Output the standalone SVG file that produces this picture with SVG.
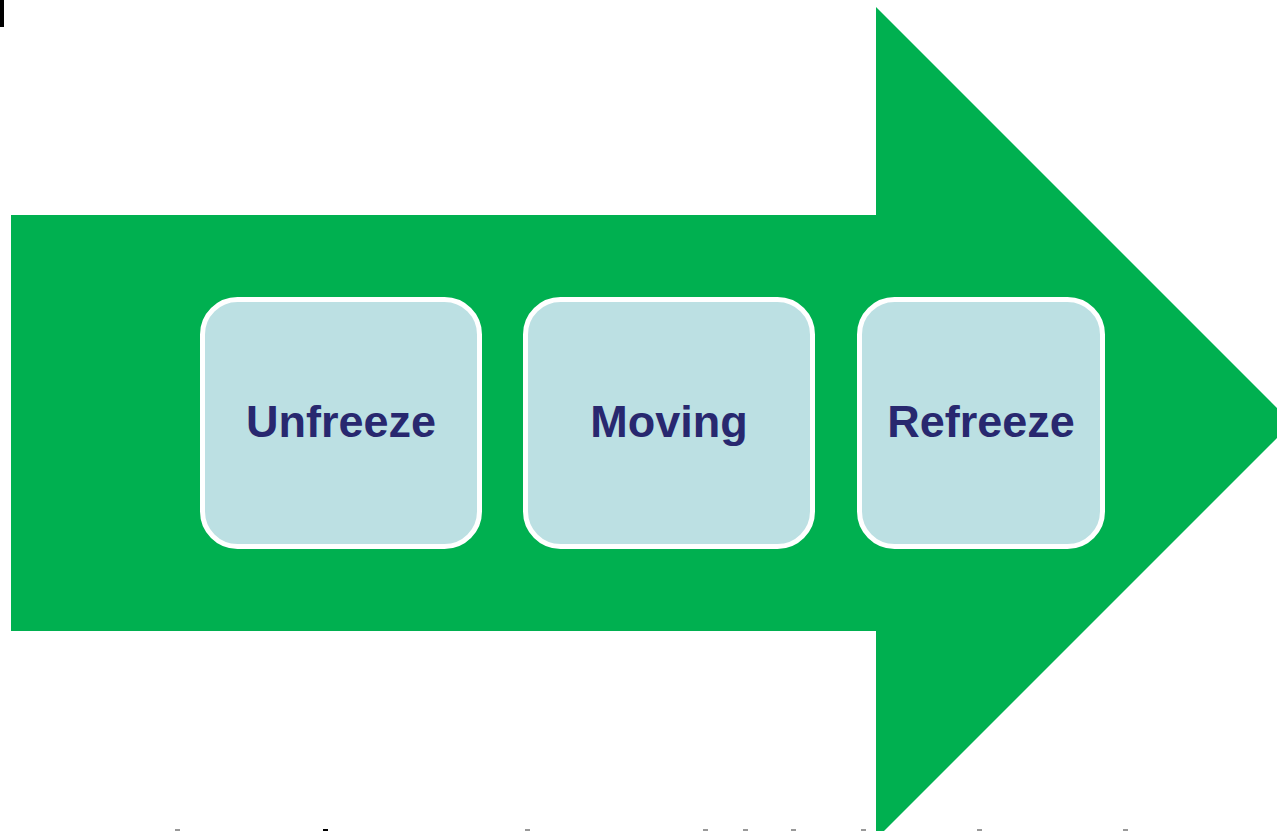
<svg xmlns="http://www.w3.org/2000/svg" width="1277" height="831" viewBox="0 0 1277 831">
  <style>
    .stage rect { fill: #bce0e3; stroke: #ffffff; stroke-width: 5; }
    .stage text { font-family: "Liberation Sans", Arial, sans-serif; font-weight: bold; font-size: 45px; fill: #28286f; text-anchor: middle; }
    .tick { fill: #999999; }
  </style>
  <rect width="1277" height="831" fill="#ffffff"/>
  <rect x="0" y="0" width="4" height="27" fill="#000000"/>

  <!-- process arrow -->
  <g id="process-arrow">
    <polygon points="11,215 876,215 876,7 1292,423 876,839 876,631 11,631" fill="#00b050"/>
  </g>

  <g id="unfreeze" class="stage">
    <rect x="202.5" y="299.5" width="277" height="247" rx="35" ry="35"/>
    <text x="341" y="437">Unfreeze</text>
  </g>
  <g id="moving" class="stage">
    <rect x="525.5" y="299.5" width="287" height="247" rx="35" ry="35"/>
    <text x="669" y="437">Moving</text>
  </g>
  <g id="refreeze" class="stage">
    <rect x="859.5" y="299.5" width="243" height="247" rx="35" ry="35"/>
    <text x="981" y="437">Refreeze</text>
  </g>

  <g id="connectors"></g>

  <!-- small marks along the bottom edge -->
  <g id="bottom-marks">
    <rect class="tick" x="175" y="829" width="5" height="2"/>
    <rect x="323" y="829" width="5" height="2" fill="#000000"/>
    <rect class="tick" x="525" y="829" width="5" height="2"/>
    <rect class="tick" x="703" y="829" width="5" height="2"/>
    <rect class="tick" x="743" y="829" width="5" height="2"/>
    <rect class="tick" x="791" y="829" width="5" height="2"/>
    <rect class="tick" x="861" y="829" width="5" height="2"/>
    <rect class="tick" x="977" y="829" width="5" height="2"/>
    <rect class="tick" x="1123" y="829" width="5" height="2"/>
  </g>
</svg>
